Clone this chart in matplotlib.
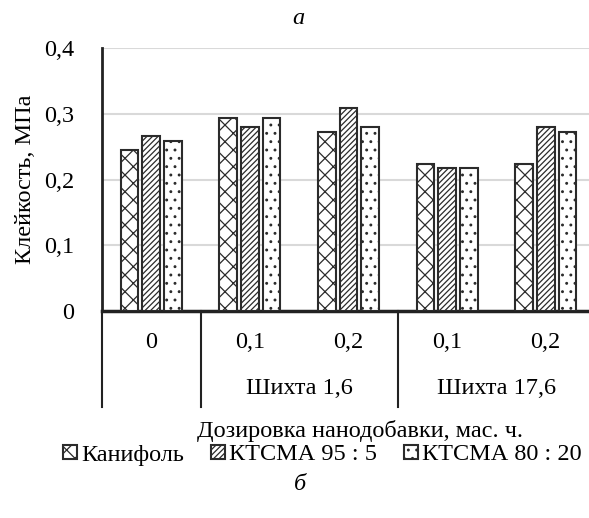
import matplotlib
matplotlib.use("Agg")
import matplotlib.pyplot as plt
import matplotlib.transforms as mtransforms

plt.rcParams['font.family'] = ['Liberation Serif', 'DejaVu Serif']
plt.rcParams['hatch.linewidth'] = 0.9

doses = ['0', '0,1', '0,2', '0,1', '0,2']
groups = ['Шихта 1,6', 'Шихта 17,6']
series = ['Канифоль', 'КТСМА 95 : 5', 'КТСМА 80 : 20']
kanifol = [0.245, 0.294, 0.273, 0.224, 0.224]
ktcma95 = [0.266, 0.280, 0.308, 0.217, 0.280]
ktcma80 = [0.259, 0.294, 0.280, 0.217, 0.273]
hatches = ['xx', '//////', '..']

W, H = 589, 518
FS = 17.5
fig = plt.figure(figsize=(W / 100, H / 100), dpi=100)
ax = fig.add_axes([102 / W, 1 - 311 / H, 493 / W, 263 / H])

x = list(range(len(doses)))
step, bw = 0.22, 0.18
bars = []
for i, (name, vals) in enumerate(zip(series, [kanifol, ktcma95, ktcma80])):
    b = ax.bar([v + (i - 1) * step for v in x], vals, bw, color='white',
               edgecolor='#2b2b2b', linewidth=1.5, hatch=hatches[i], label=name, zorder=3)
    bars.append(b)

ax.set_xlim(-0.5, len(doses) - 0.5)
ax.set_ylim(0, 0.4)
ax.set_yticks([0, 0.1, 0.2, 0.3, 0.4])
ax.set_yticklabels(['0', '0,1', '0,2', '0,3', '0,4'])
ax.yaxis.grid(True, color='#d9d9d9', linewidth=1.5, zorder=0)
ax.set_axisbelow(True)
ax.tick_params(axis='y', length=0, pad=20, labelsize=FS)
ax.set_xticks([])
for s in ['top', 'right']:
    ax.spines[s].set_visible(False)
ax.spines['left'].set_linewidth(2)
ax.spines['bottom'].set_linewidth(2.5)
ax.spines['left'].set_color('#222222')
ax.spines['bottom'].set_color('#222222')
ax.set_ylabel('Клейкость, МПа', fontsize=FS, labelpad=6)

trans = mtransforms.blended_transform_factory(ax.transData, ax.transAxes)
low = -(407 - 311) / 263
for xs in [-0.5, 0.5, 2.5]:
    ax.plot([xs, xs], [0, low], transform=trans, color='#222222', lw=1.5, clip_on=False)
for xi, lab in zip(x, doses):
    ax.text(xi, -(343 - 311) / 263, lab, transform=trans, ha='center', va='center', fontsize=FS)
for gx, lab in zip([1.5, 3.5], groups):
    ax.text(gx, -(388 - 311) / 263, lab, transform=trans, ha='center', va='center', fontsize=FS)

fig.text(360 / W, 1 - 431 / H, 'Дозировка нанодобавки, мас. ч.', ha='center', va='center', fontsize=FS)
fig.text(298 / W, 1 - 19 / H, 'а', ha='center', va='center', fontsize=FS, style='italic')
fig.text(300 / W, 1 - 484 / H, 'б', ha='center', va='center', fontsize=FS, style='italic')

fig.legend(handles=bars, labels=series, loc='center right', bbox_to_anchor=(582 / W, 1 - 455 / H),
           ncol=3, frameon=False, fontsize=FS, handlelength=0.55, handleheight=0.55,
           handletextpad=0.2, columnspacing=1.1, borderaxespad=0, borderpad=0)

fig.savefig('out.png', dpi=100)
